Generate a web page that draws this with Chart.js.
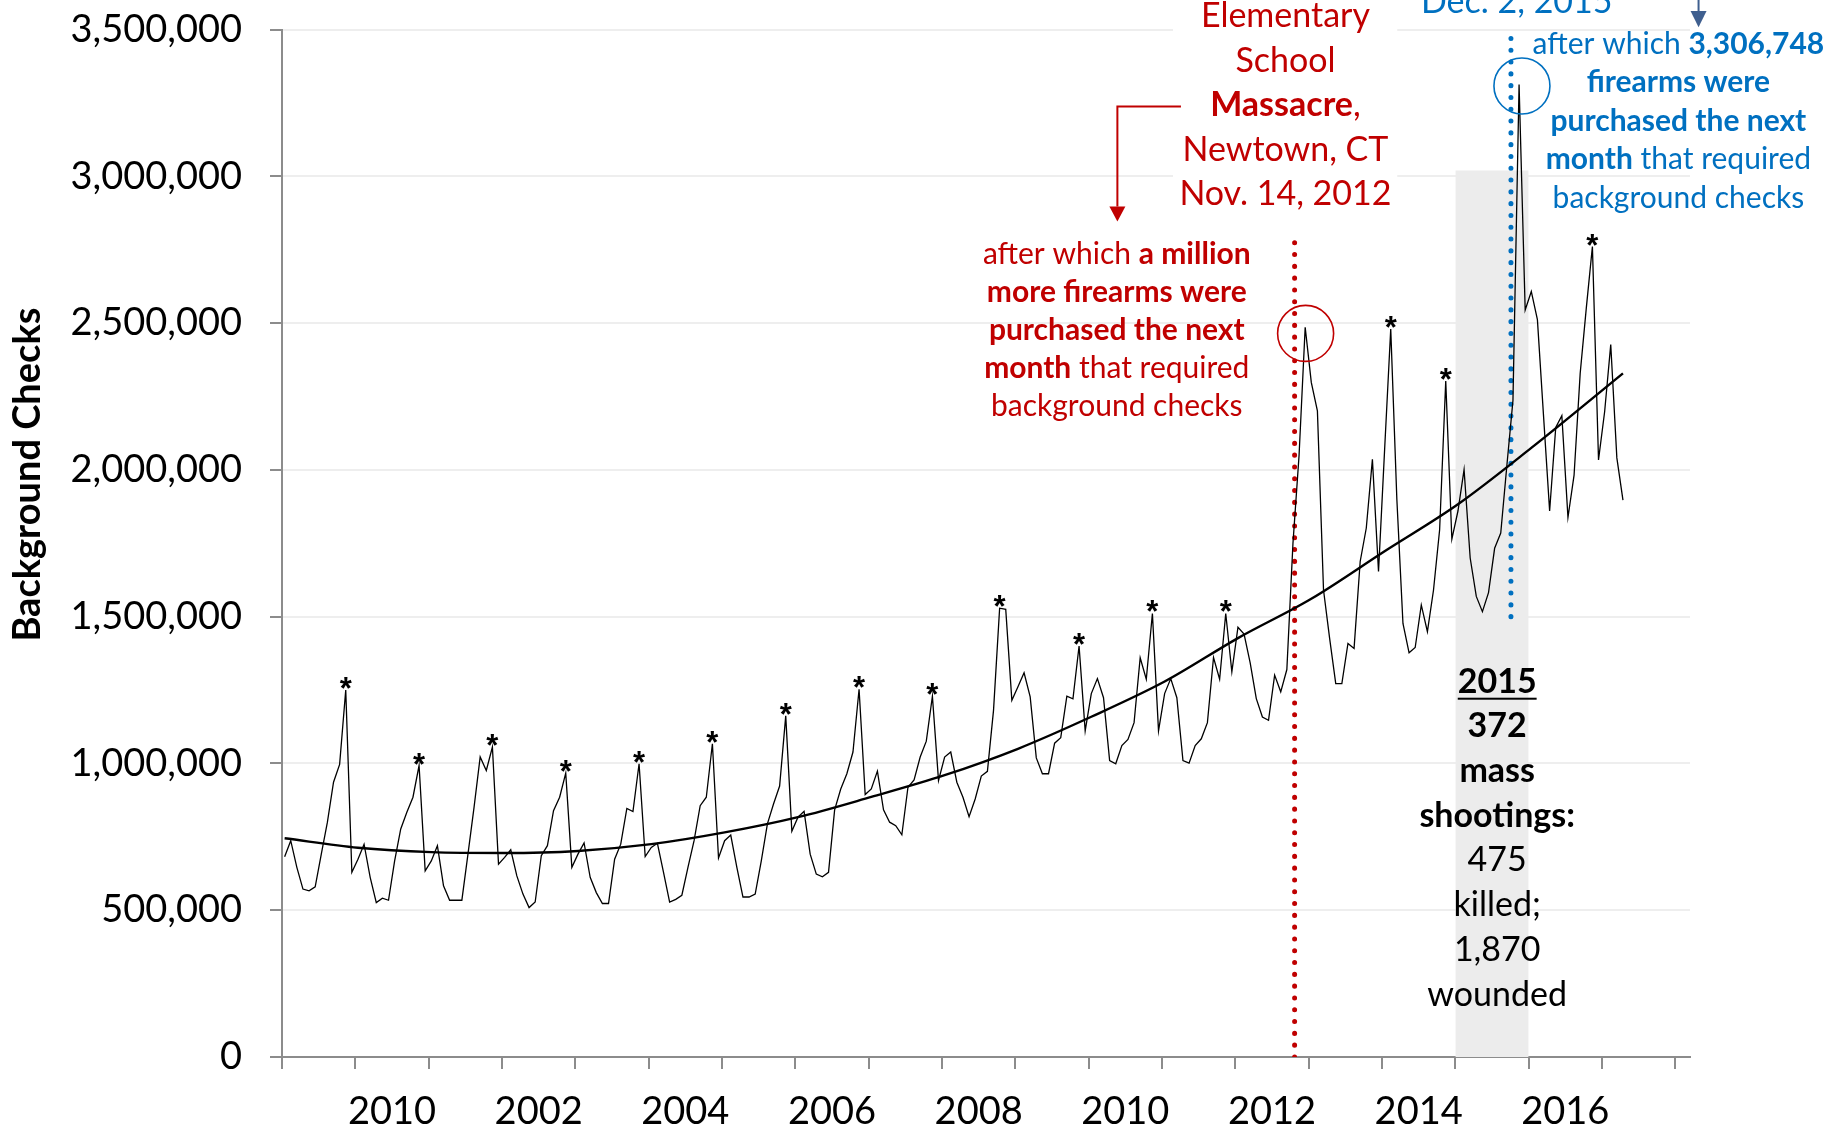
<!DOCTYPE html>
<html>
<head>
<meta charset="utf-8">
<title>Background Checks</title>
<script src="https://cdn.jsdelivr.net/npm/chart.js@4.4.1/dist/chart.umd.min.js"></script>
<style>
html, body { margin: 0; padding: 0; background: #fff; }
#wrap { width: 1825px; height: 1131px; }
</style>
</head>
<body>
<div id="wrap"><canvas id="nics-chart" width="1825" height="1131"></canvas></div>
<script>
// monthly firearm background checks, in thousands
// x axis counts months from the start of 1999; first reading sits a little after it
var firstMonth = 0.43;
var checks = [
    682, 737, 646, 572, 566, 580, 691, 800, 936, 997, 1250, 629,
    674, 725, 612, 526, 541, 534, 668, 777, 834, 885, 993, 634,
    668, 720, 583, 534, 534, 534, 691, 851, 1022, 976, 1056, 657,
    680, 706, 617, 555, 509, 528, 686, 720, 839, 885, 967, 646,
    691, 729, 612, 560, 523, 523, 674, 725, 847, 836, 999, 683,
    714, 728, 629, 528, 537, 551, 646, 737, 856, 885, 1067, 678,
    737, 756, 646, 545, 545, 555, 668, 794, 862, 923, 1162, 769,
    817, 837, 691, 623, 614, 629, 842, 913, 965, 1039, 1253, 894,
    913, 974, 842, 800, 788, 757, 919, 944, 1022, 1076, 1229, 942,
    1022, 1039, 936, 885, 819, 879, 957, 973, 1181, 1529, 1525, 1215,
    1261, 1309, 1227, 1019, 965, 965, 1069, 1088, 1229, 1220, 1400, 1111,
    1238, 1289, 1224, 1010, 999, 1061, 1082, 1139, 1360, 1287, 1511, 1111,
    1238, 1289, 1224, 1010, 1001, 1061, 1084, 1139, 1361, 1287, 1511, 1312,
    1464, 1441, 1343, 1221, 1158, 1147, 1301, 1244, 1320, 1750, 2050, 2486,
    2298, 2201, 1591, 1426, 1272, 1272, 1409, 1392, 1688, 1802, 2036, 1654,
    2070, 2480, 1900, 1477, 1377, 1395, 1540, 1449, 1591, 1796, 2303, 1764,
    1860, 2001, 1700, 1569, 1517, 1582, 1733, 1785, 2014, 2237, 3313, 2545,
    2608, 2512, 2185, 1860, 2145, 2185, 1838, 1982, 2329, 2551, 2761, 2034,
    2198, 2427, 2041, 1897
];
// trend curve (reading index -> thousands)
var trendAt = [0, 12, 24, 36, 48, 60, 72, 84, 96, 108, 120, 132, 144, 156, 168, 180, 192, 204, 219];
var trendValues = [745, 713, 698, 695, 702, 725, 765, 817, 886, 960, 1050, 1159, 1279, 1427, 1561, 1723, 1883, 2075, 2329];
// readings marked with an asterisk
var starred = [10, 22, 34, 46, 58, 70, 82, 94, 106, 117, 130, 142, 154, 181, 190, 214];
var yearLabels = ['2010', '2002', '2004', '2006', '2008', '2010', '2012', '2014', '2016'];

var band2015 = [192, 204];      // months
var bandTop = 3020;             // thousands
var newtownMonth = 165.7, newtownTop = 2780;
var bernardinoMonth = 201.1, bernardinoRange = [1500, 3490];
var circles = [{x: 167.5, y: 2465, c: '#c00000'}, {x: 202.9, y: 3308, c: '#0070c0'}];

var RED = '#c00000', BLUE = '#0070c0', AXIS = '#8c8c8c';

var newtownLines = [
    [['Elementary', false]],
    [['School', false]],
    [['Massacre', true], [',', false]],
    [['Newtown, CT', false]],
    [['Nov. 14, 2012', false]]
];
var redLines = [
    [['after which ', false], ['a million', true]],
    [['more firearms were', true]],
    [['purchased the next', true]],
    [['month', true], [' that required', false]],
    [['background checks', false]]
];
var blueLines = [
    [['after which ', false], ['3,306,748', true]],
    [['firearms were', true]],
    [['purchased the next', true]],
    [['month', true], [' that required', false]],
    [['background checks', false]]
];
var shootLines = [
    [['2015', true]],
    [['372', true]],
    [['mass', true]],
    [['shootings:', true]],
    [['475', false]],
    [['killed;', false]],
    [['1,870', false]],
    [['wounded', false]]
];

function richLine(ctx, segs, cx, y, size, color) {
    var total = 0;
    segs.forEach(function (s) {
        ctx.font = (s[1] ? 'bold ' : '') + size + 'px Lato';
        total += ctx.measureText(s[0]).width;
    });
    var x = cx - total / 2;
    ctx.fillStyle = color;
    ctx.textAlign = 'left';
    ctx.textBaseline = 'middle';
    segs.forEach(function (s) {
        ctx.font = (s[1] ? 'bold ' : '') + size + 'px Lato';
        ctx.fillText(s[0], x, y);
        x += ctx.measureText(s[0]).width;
    });
    return total;
}

var notes = {
    id: 'notes',
    beforeDatasetsDraw: function (chart) {
        var ctx = chart.ctx, xs = chart.scales.x, ys = chart.scales.y;
        // white box behind the Newtown caption
        var x1 = xs.getPixelForValue(145.8), x2 = xs.getPixelForValue(182.5);
        ctx.save();
        ctx.fillStyle = '#fff';
        ctx.fillRect(x1, 0, x2 - x1, ys.getPixelForValue(2873000));
        ctx.restore();
    },
    afterDraw: function (chart) {
        var ctx = chart.ctx, xs = chart.scales.x, ys = chart.scales.y;
        var px = function (m) { return xs.getPixelForValue(m); };
        var py = function (v) { return ys.getPixelForValue(v * 1000); };
        var i, y;
        ctx.save();

        // asterisks over the December peaks
        var pts = chart.getDatasetMeta(0).data;
        ctx.font = 'bold 31px "Liberation Sans"';
        ctx.fillStyle = '#000';
        ctx.textAlign = 'center';
        ctx.textBaseline = 'alphabetic';
        starred.forEach(function (k) {
            ctx.fillText('*', pts[k].x, pts[k].y + 9);
        });

        // Newtown caption
        y = py(3546);
        for (i = 0; i < newtownLines.length; i++) {
            richLine(ctx, newtownLines[i], px(164.2), y + i * 44.5, 34, RED);
        }
        // red elbow arrow
        ctx.strokeStyle = RED;
        ctx.fillStyle = RED;
        ctx.lineWidth = 2;
        ctx.beginPath();
        ctx.moveTo(px(147.1), py(3238));
        ctx.lineTo(px(136.7), py(3238));
        ctx.lineTo(px(136.7), py(2897));
        ctx.stroke();
        ctx.beginPath();
        ctx.moveTo(px(136.7) - 8, py(2897));
        ctx.lineTo(px(136.7) + 8, py(2897));
        ctx.lineTo(px(136.7), py(2846));
        ctx.closePath();
        ctx.fill();

        y = py(2736);
        for (i = 0; i < redLines.length; i++) {
            richLine(ctx, redLines[i], px(136.6), y + i * 38, 30, RED);
        }

        // San Bernardino caption (top cut off by the frame)
        ctx.font = '34px Lato';
        ctx.fillStyle = BLUE;
        ctx.textAlign = 'center';
        ctx.textBaseline = 'alphabetic';
        ctx.fillText('Dec. 2, 2015', px(202.05), py(3556));
        y = py(3450);
        for (i = 0; i < blueLines.length; i++) {
            richLine(ctx, blueLines[i], px(228.5), y + i * 38.5, 30, BLUE);
        }
        // slate arrow down from above
        var ax = px(231.8);
        ctx.strokeStyle = '#3f5f8f';
        ctx.fillStyle = '#3f5f8f';
        ctx.lineWidth = 2;
        ctx.beginPath();
        ctx.moveTo(ax, 0);
        ctx.lineTo(ax, py(3563));
        ctx.stroke();
        ctx.beginPath();
        ctx.moveTo(ax - 8, py(3563));
        ctx.lineTo(ax + 8, py(3563));
        ctx.lineTo(ax, py(3508));
        ctx.closePath();
        ctx.fill();

        // 2015 mass shootings box
        y = py(1278.5);
        for (i = 0; i < shootLines.length; i++) {
            var w = richLine(ctx, shootLines[i], px(198.85), y + i * 44.7, 34, '#000');
            if (i === 0) {
                ctx.fillRect(px(198.85) - w / 2, y + 16, w, 2);
            }
        }

        // y axis title
        ctx.translate(28, py(1984));
        ctx.rotate(-Math.PI / 2);
        ctx.font = 'bold 38px Lato';
        ctx.fillStyle = '#000';
        ctx.textAlign = 'center';
        ctx.textBaseline = 'middle';
        ctx.fillText('Background Checks', 0, 0);
        ctx.restore();
    }
};

var data = {
    datasets: [{
        label: 'Background checks',
        data: checks.map(function (v, i) { return {x: firstMonth + i, y: v * 1000}; }),
        borderColor: '#000',
        borderWidth: 1.3,
        pointRadius: 0,
        tension: 0,
        order: 1
    }, {
        label: 'Trend',
        data: trendAt.map(function (k, i) { return {x: firstMonth + k, y: trendValues[i] * 1000}; }),
        borderColor: '#000',
        borderWidth: 2.4,
        pointRadius: 0,
        cubicInterpolationMode: 'monotone',
        order: 2
    }, {
        label: '2015',
        data: [{x: band2015[0], y: bandTop * 1000}, {x: band2015[1], y: bandTop * 1000}],
        borderWidth: 0,
        borderColor: 'rgba(0,0,0,0)',
        backgroundColor: '#ececec',
        fill: 'origin',
        pointRadius: 0,
        order: 10
    }, {
        label: 'Newtown',
        data: [{x: newtownMonth, y: 0}, {x: newtownMonth, y: newtownTop * 1000}],
        borderColor: RED,
        borderWidth: 5,
        borderDash: [0.1, 11.7],
        borderCapStyle: 'round',
        pointRadius: 0,
        order: 3
    }, {
        label: 'San Bernardino',
        data: [{x: bernardinoMonth, y: bernardinoRange[0] * 1000}, {x: bernardinoMonth, y: bernardinoRange[1] * 1000}],
        borderColor: BLUE,
        borderWidth: 5,
        borderDash: [0.1, 11.7],
        borderCapStyle: 'round',
        pointRadius: 0,
        order: 3
    }, {
        label: 'circles',
        data: circles.map(function (c) { return {x: c.x, y: c.y * 1000}; }),
        showLine: false,
        pointRadius: 28,
        pointBorderWidth: 1.6,
        pointBorderColor: circles.map(function (c) { return c.c; }),
        pointBackgroundColor: 'rgba(0,0,0,0)',
        order: 0
    }]
};

var layout = {
    type: 'line',
    data: data,
    options: {
        responsive: false,
        animation: false,
        devicePixelRatio: 1,
        layout: {
            padding: {top: 29, right: 135, bottom: 0, left: 0}
        },
        plugins: {
            legend: {display: false},
            tooltip: {enabled: false}
        },
        scales: {
            x: {
                type: 'linear',
                min: 0,
                max: 230.4,
                afterFit: function (s) {
                    s.height = 74;
                    s.paddingLeft = 0;
                    s.paddingRight = 0;
                },
                afterBuildTicks: function (s) {
                    var t = [];
                    for (var m = 0; m <= 228; m += 6) t.push({value: m});
                    s.ticks = t;
                },
                grid: {
                    drawOnChartArea: false,
                    tickLength: 12,
                    lineWidth: 2,
                    tickColor: function (c) { return c.tick && c.tick.value % 12 === 0 ? AXIS : 'rgba(0,0,0,0)'; }
                },
                border: {color: AXIS, width: 2},
                ticks: {
                    autoSkip: false,
                    maxRotation: 0,
                    padding: 20,
                    color: '#000',
                    font: {family: 'Lato', size: 38},
                    callback: function (v) {
                        var k = (v - 18) / 24;
                        return Number.isInteger(k) && yearLabels[k] ? yearLabels[k] : '';
                    }
                }
            },
            y: {
                min: 0,
                max: 3500000,
                afterFit: function (s) {
                    s.width = 282;
                    s.paddingTop = 0;
                    s.paddingBottom = 0;
                },
                grid: {
                    color: '#eeeeee',
                    lineWidth: 2,
                    tickLength: 12,
                    tickColor: AXIS
                },
                border: {color: AXIS, width: 2},
                ticks: {
                    stepSize: 500000,
                    padding: 28,
                    color: '#000',
                    font: {family: 'Lato', size: 38},
                    callback: function (v) { return v.toLocaleString('en-US'); }
                }
            }
        }
    },
    plugins: [notes]
};

const checksChart = document.getElementById('nics-chart');
new Chart(checksChart, layout);
</script>
</body>
</html>
